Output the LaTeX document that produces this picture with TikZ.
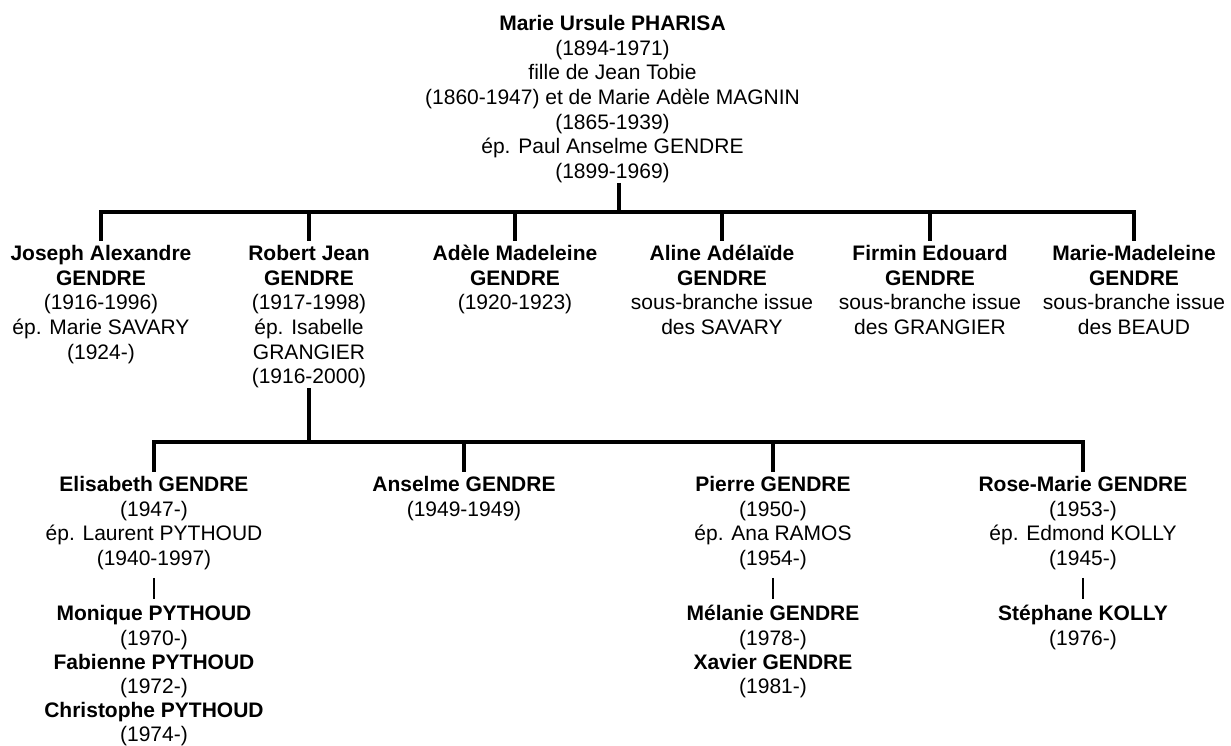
\documentclass[tikz,border=0pt]{standalone}
\usepackage{fontspec}
\setmainfont{Liberation Sans}
\tikzset{
  person/.style={align=center, anchor=north, inner sep=0pt, font=\fontsize{21}{24.6}\selectfont},
  personb/.style={person, font=\fontsize{21}{24.2}\selectfont},
  barline/.style={line width=4.2pt, line cap=rect},
  dropline/.style={line width=3.6pt, shorten >=2.5pt},
  stemline/.style={line width=3.6pt, shorten <=-3pt},
  thinline/.style={line width=2.4pt, shorten <=4.8pt, shorten >=4.8pt},
}
\begin{document}
\begin{tikzpicture}[x=1pt,y=-1pt]
\fill[white] (0,0) rectangle (1231,746);
\useasboundingbox (0,0) rectangle (1231,746);

% generation 0
\node[person] (top) at (612.5,13.3) {\strut\textbf{Marie Ursule PHARISA}\\(1894-1971)\\fille de Jean Tobie\\(1860-1947) et de Marie Adèle MAGNIN\\(1865-1939)\\ép. Paul Anselme GENDRE\\(1899-1969)\strut};

% generation 1
\node[person] (joseph) at (101,243.3) {\strut\textbf{Joseph Alexandre}\\\textbf{GENDRE}\\(1916-1996)\\ép. Marie SAVARY\\(1924-)\strut};
\node[person] (robert) at (309,243.3) {\strut\textbf{Robert Jean}\\\textbf{GENDRE}\\(1917-1998)\\ép. Isabelle\\GRANGIER\\(1916-2000)\strut};
\node[person] (adele) at (515,243.3) {\strut\textbf{Adèle Madeleine}\\\textbf{GENDRE}\\(1920-1923)\strut};
\node[person] (aline) at (722,243.3) {\strut\textbf{Aline Adélaïde}\\\textbf{GENDRE}\\sous-branche issue\\des SAVARY\strut};
\node[person] (firmin) at (930,243.3) {\strut\textbf{Firmin Edouard}\\\textbf{GENDRE}\\sous-branche issue\\des GRANGIER\strut};
\node[person] (mariemad) at (1134,243.3) {\strut\textbf{Marie-Madeleine}\\\textbf{GENDRE}\\sous-branche issue\\des BEAUD\strut};

% generation 2
\node[person] (elisabeth) at (154,474.3) {\strut\textbf{Elisabeth GENDRE}\\(1947-)\\ép. Laurent PYTHOUD\\(1940-1997)\strut};
\node[person] (anselme) at (464,474.3) {\strut\textbf{Anselme GENDRE}\\(1949-1949)\strut};
\node[person] (pierre) at (773,474.3) {\strut\textbf{Pierre GENDRE}\\(1950-)\\ép. Ana RAMOS\\(1954-)\strut};
\node[person] (rosemarie) at (1083,474.3) {\strut\textbf{Rose-Marie GENDRE}\\(1953-)\\ép. Edmond KOLLY\\(1945-)\strut};

% generation 3
\node[personb] (pythoud) at (154,603.8) {\strut\textbf{Monique PYTHOUD}\\(1970-)\\\textbf{Fabienne PYTHOUD}\\(1972-)\\\textbf{Christophe PYTHOUD}\\(1974-)};
\node[personb] (melanie) at (773,603.8) {\strut\textbf{Mélanie GENDRE}\\(1978-)\\\textbf{Xavier GENDRE}\\(1981-)};
\node[personb] (stephane) at (1083,603.8) {\strut\textbf{Stéphane KOLLY}\\(1976-)};

% junction coordinates
\coordinate (j0) at (619,212);
\coordinate (jl) at (101,212);
\coordinate (jr) at (1134,212);
\coordinate (k0) at (309,442);
\coordinate (kl) at (154,442);
\coordinate (kr) at (1083,442);

% first family
\draw[stemline] (top.south -| j0) -- (j0);
\draw[barline] (jl) -- (jr);
\foreach \n in {joseph,robert,adele,aline,firmin,mariemad}
  \draw[dropline] (\n.north |- j0) -- (\n.north);

% second family
\draw[stemline] (robert.south) -- (k0);
\draw[barline] (kl) -- (kr);
\foreach \n in {elisabeth,anselme,pierre,rosemarie}
  \draw[dropline] (\n.north |- k0) -- (\n.north);

% third generation links
\draw[thinline] (elisabeth.south) -- (pythoud.north);
\draw[thinline] (pierre.south) -- (melanie.north);
\draw[thinline] (rosemarie.south) -- (stephane.north);
\end{tikzpicture}
\end{document}
